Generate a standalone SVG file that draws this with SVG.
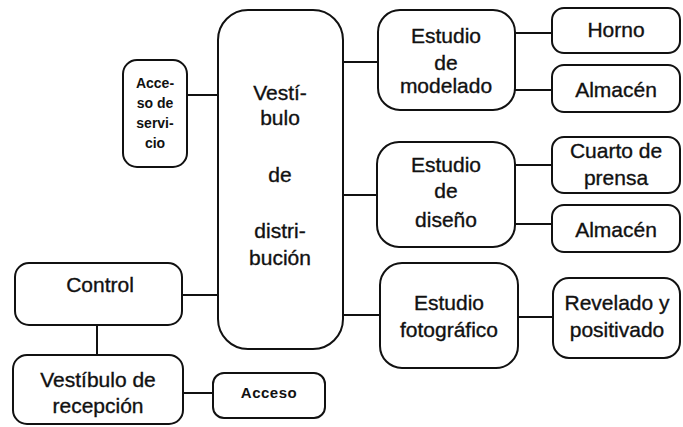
<svg xmlns="http://www.w3.org/2000/svg" width="683" height="427" viewBox="0 0 683 427">
<style>
.b{fill:#fff;stroke:#111;stroke-width:2}
.t{font-family:"Liberation Sans",Arial,sans-serif;font-size:21px;fill:#111;stroke:#111;stroke-width:0.35;text-anchor:middle}
.s{font-family:"Liberation Sans",Arial,sans-serif;font-size:14px;font-weight:bold;fill:#111;text-anchor:middle}
.c{stroke:#111;stroke-width:2;fill:none}
</style>
<rect width="683" height="427" fill="#fff"/>
<g id="connectors">
<line class="c" x1="187" y1="95" x2="218" y2="95"/>
<line class="c" x1="343" y1="62" x2="378" y2="62"/>
<line class="c" x1="343" y1="195" x2="377" y2="195"/>
<line class="c" x1="343" y1="315" x2="380" y2="315"/>
<line class="c" x1="515" y1="33" x2="552" y2="33"/>
<line class="c" x1="515" y1="90" x2="552" y2="90"/>
<line class="c" x1="515" y1="165" x2="552" y2="165"/>
<line class="c" x1="515" y1="224" x2="552" y2="224"/>
<line class="c" x1="518" y1="317" x2="553" y2="317"/>
<line class="c" x1="182" y1="295" x2="218" y2="295"/>
<line class="c" x1="97" y1="325" x2="97" y2="355"/>
<line class="c" x1="183" y1="393" x2="213" y2="393"/>
</g>
<g id="vestibulo-distribucion">
<rect class="b" x="218" y="10" width="125" height="339" rx="30"/>
<text class="t" x="280" y="100">Vestí-</text>
<text class="t" x="280" y="125">bulo</text>
<text class="t" x="280" y="182">de</text>
<text class="t" x="280" y="238">distri-</text>
<text class="t" x="280" y="265">bución</text>
</g>
<g id="acceso-servicio">
<rect class="b" x="123" y="60" width="64" height="107" rx="14"/>
<text class="s" x="155" y="88">Acce-</text>
<text class="s" x="155" y="108">so de</text>
<text class="s" x="155" y="128">servi-</text>
<text class="s" x="155" y="148">cio</text>
</g>
<g id="estudio-modelado">
<rect class="b" x="378" y="10" width="137" height="100" rx="22"/>
<text class="t" x="446" y="43">Estudio</text>
<text class="t" x="446" y="70">de</text>
<text class="t" x="446" y="93">modelado</text>
</g>
<g id="horno">
<rect class="b" x="552" y="8" width="128" height="45" rx="12"/>
<text class="t" x="616" y="37">Horno</text>
</g>
<g id="almacen-1">
<rect class="b" x="552" y="65" width="128" height="47" rx="12"/>
<text class="t" x="616" y="97">Almacén</text>
</g>
<g id="estudio-diseno">
<rect class="b" x="377" y="142" width="138" height="105" rx="22"/>
<text class="t" x="446" y="172">Estudio</text>
<text class="t" x="446" y="198">de</text>
<text class="t" x="446" y="227">diseño</text>
</g>
<g id="cuarto-prensa">
<rect class="b" x="552" y="137" width="128" height="56" rx="12"/>
<text class="t" x="616" y="158">Cuarto de</text>
<text class="t" x="616" y="185">prensa</text>
</g>
<g id="almacen-2">
<rect class="b" x="552" y="205" width="128" height="47" rx="12"/>
<text class="t" x="616" y="237">Almacén</text>
</g>
<g id="estudio-fotografico">
<rect class="b" x="380" y="263" width="138" height="105" rx="22"/>
<text class="t" x="449" y="310">Estudio</text>
<text class="t" x="449" y="337">fotográfico</text>
</g>
<g id="revelado">
<rect class="b" x="553" y="278" width="127" height="80" rx="16"/>
<text class="t" x="617" y="310">Revelado y</text>
<text class="t" x="617" y="337">positivado</text>
</g>
<g id="control">
<rect class="b" x="15" y="263" width="167" height="62" rx="14"/>
<text class="t" x="100" y="292">Control</text>
</g>
<g id="vestibulo-recepcion">
<rect class="b" x="13" y="355" width="170" height="69" rx="14"/>
<text class="t" x="98" y="387">Vestíbulo de</text>
<text class="t" x="98" y="413">recepción</text>
</g>
<g id="acceso">
<rect class="b" x="213" y="373" width="112" height="45" rx="11"/>
<text class="s" x="269" y="398" style="font-size:15px;letter-spacing:0.5px">Acceso</text>
</g>
</svg>
